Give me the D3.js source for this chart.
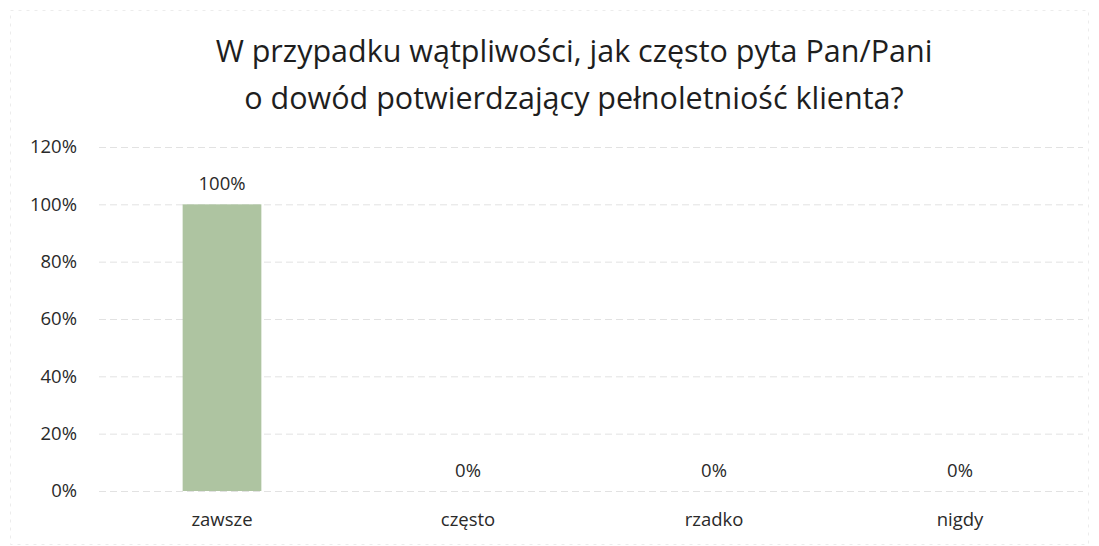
<!DOCTYPE html>
<html>
<head>
<meta charset="utf-8">
<script src="https://cdn.jsdelivr.net/npm/d3@7"></script>
<style>
  body { margin: 0; background: #fff; }
  svg text { font-family: "Open Sans", "Noto Sans", sans-serif; }
</style>
</head>
<body>
<script>

var categories = ["zawsze", "często", "rzadko", "nigdy"];
var values = [1.00, 0, 0, 0];
var yTicks = [0, 0.2, 0.4, 0.6, 0.8, 1.0, 1.2];
var titleLines = ["W przypadku wątpliwości, jak często pyta Pan/Pani",
                  "o dowód potwierdzający pełnoletniość klienta?"];

var width = 1099, height = 546;
var margin = {top: 147, right: 16, bottom: 55, left: 99};

var svg = d3.select("body").append("svg")
    .attr("width", width)
    .attr("height", height);

// faint chart frame
svg.append("rect")
    .attr("x", 10.5).attr("y", 10.5)
    .attr("width", width - 21).attr("height", height - 12)
    .attr("fill", "none")
    .attr("stroke", "#ececec")
    .attr("stroke-dasharray", "3,5");

var x = d3.scaleBand()
    .domain(categories)
    .range([margin.left, width - margin.right])
    .paddingInner(0.68)
    .paddingOuter(0.34);

var y = d3.scaleLinear()
    .domain([0, 1.2])
    .range([height - margin.bottom, margin.top]);

// title
svg.append("g").selectAll("text")
    .data(titleLines)
    .enter().append("text")
    .attr("x", 574)
    .attr("y", function(d, i) { return 62 + i * 47; })
    .attr("text-anchor", "middle")
    .attr("fill", "#1e1e1e")
    .style("font-size", "30.5px")
    .text(function(d) { return d; });

// gridlines + y axis
var yAxis = svg.append("g")
    .attr("transform", "translate(" + margin.left + ",0)")
    .call(d3.axisLeft(y).tickValues(yTicks)
        .tickFormat(d3.format(".0%"))
        .tickSize(-(width - margin.left - margin.right))
        .tickPadding(22));
yAxis.select(".domain").remove();
yAxis.selectAll(".tick line")
    .attr("stroke", "#e2e2e2")
    .attr("stroke-dasharray", "7,4");
yAxis.selectAll(".tick text")
    .attr("fill", "#2a2a2a")
    .style("font-size", "18.5px");

// bars
svg.append("g").selectAll("rect")
    .data(values)
    .enter().append("rect")
    .attr("x", function(d, i) { return x(categories[i]); })
    .attr("y", function(d) { return y(d); })
    .attr("width", x.bandwidth())
    .attr("height", function(d) { return y(0) - y(d); })
    .attr("fill", "#aec4a1");

// data labels
svg.append("g").selectAll("text")
    .data(values)
    .enter().append("text")
    .attr("x", function(d, i) { return x(categories[i]) + x.bandwidth() / 2; })
    .attr("y", function(d) { return y(d) - 14; })
    .attr("text-anchor", "middle")
    .attr("fill", "#2a2a2a")
    .style("font-size", "18.5px")
    .text(function(d) { return d3.format(".0%")(d); });

// x axis labels
var xAxis = svg.append("g")
    .attr("transform", "translate(0," + y(0) + ")")
    .call(d3.axisBottom(x).tickSize(0).tickPadding(22));
xAxis.select(".domain").remove();
xAxis.selectAll(".tick text")
    .attr("fill", "#2a2a2a")
    .style("font-size", "18.5px");

</script>
</body>
</html>
